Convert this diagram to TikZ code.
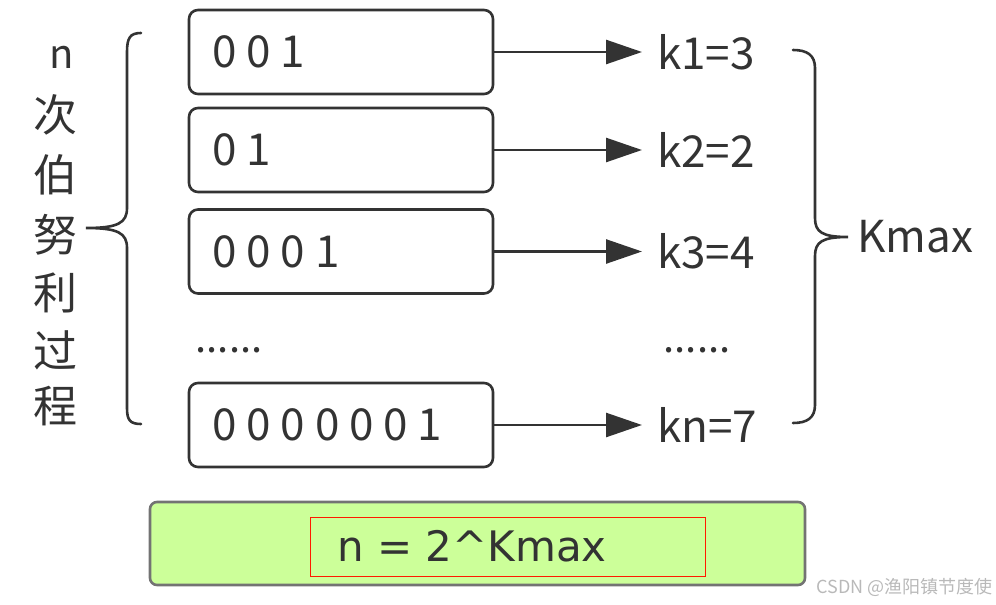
\documentclass[tikz,border=0pt]{standalone}
\usepackage{fontspec}
\setmainfont{Noto Sans CJK SC}
\newfontfamily\eqfont{DejaVu Sans}
\usetikzlibrary{arrows.meta}
\definecolor{ink}{HTML}{333333}
\definecolor{greenfill}{HTML}{CCFF99}
\tikzset{
  bitbox/.style={draw=ink, line width=2.6pt, rounded corners=9pt, minimum width=304pt, minimum height=84pt, inner sep=0pt},
  bits/.style={anchor=west, font=\fontsize{44}{48}\selectfont, text=ink, inner sep=0pt},
  klabel/.style={anchor=west, font=\fontsize{44}{48}\selectfont, text=ink, inner sep=0pt},
  arr/.style={draw=ink, line width=2.6pt, shorten >=15pt, -{Triangle[length=36pt,width=24pt]}},
  bracestyle/.style={draw=ink, line width=2.6pt, line cap=round},
  cjk/.style={font=\fontsize{44}{48}\selectfont, text=ink, inner sep=0pt},
  dotsstyle/.style={font=\fontsize{40}{40}\selectfont, text=ink, inner sep=0pt, anchor=base},
}
\begin{document}
\begin{tikzpicture}[x=1pt,y=-1pt]
\useasboundingbox (0,0) rectangle (996,605);
% boxes
\node[bitbox] (b1) at (341,52) {};
\node[bitbox] (b2) at (341,150) {};
\node[bitbox] (b3) at (341,251.5) {};
\node[bitbox] (b5) at (341,425) {};
\node[bits] (t1) at (212,52) {0 0 1};
\node[bits] (t2) at (212,150) {0 1};
\node[bits] (t3) at (212,251.5) {0 0 0 1};
\node[bits] (t5) at (212,425) {0 0 0 0 0 0 1};
% dots
\node[dotsstyle] (d1) at (229,352) {......};
\node[dotsstyle] (d2) at (697,352) {......};
% labels
\node[klabel] (k1) at (657,52) {k1=3};
\node[klabel] (k2) at (657,150) {k2=2};
\node[klabel] (k3) at (657,251.5) {k3=4};
\node[klabel] (k5) at (657,425) {kn=7};
% arrows
\draw[arr] (b1.east) -- (k1.west);
\draw[arr] (b2.east) -- (k2.west);
\draw[arr] (b3.east) -- (k3.west);
\draw[arr] (b5.east) -- (k5.west);
% left brace
\coordinate (lbtip) at (86,228);
\draw[bracestyle] (141,33) .. controls (130,33) and (127,38) .. (127,52) -- (127,208)
  .. controls (127,223) and (118,228) .. (lbtip)
  .. controls (118,228) and (127,233) .. (127,248) -- (127,408)
  .. controls (127,420) and (130,424) .. (141,424);
% left text
\node[cjk, font=\fontsize{40}{40}\selectfont] (n) at (62,57) {n};
\node[cjk] (c1) at (55,115) {次};
\node[cjk] (c2) at (55,175) {伯};
\node[cjk] (c3) at (55,235) {努};
\node[cjk] (c4) at (55,293) {利};
\node[cjk] (c5) at (55,350) {过};
\node[cjk] (c6) at (55,406) {程};
% right brace
\coordinate (rbtip) at (848,237);
\draw[bracestyle] (793,50) .. controls (807,50) and (815,55) .. (815,68) -- (815,218)
  .. controls (815,232) and (822,237) .. (rbtip)
  .. controls (822,237) and (815,242) .. (815,256) -- (815,405)
  .. controls (815,418) and (807,423) .. (793,423);
\node[klabel] (kmax) at (857,237) {Kmax};
% bottom box
\node[draw=gray!90!black, line width=2.6pt, fill=greenfill, rounded corners=7pt, minimum width=655pt, minimum height=83pt] (gb) at (477.5,543.5) {};
\node[draw=red!80!orange, line width=0.8pt, minimum width=395pt, minimum height=59pt, inner sep=0pt] (rb) at (507.5,546.5) {};
\node[text=ink, font=\eqfont\fontsize{42}{44}\selectfont, anchor=west, inner sep=0pt] (eq) at (337,546) {n = 2\^{}Kmax};
% watermark
\node[font=\fontsize{18}{19}\selectfont, text=gray!55, anchor=east, inner sep=0pt] (wm) at (993,587) {CSDN @渔阳镇节度使};
\end{tikzpicture}
\end{document}
